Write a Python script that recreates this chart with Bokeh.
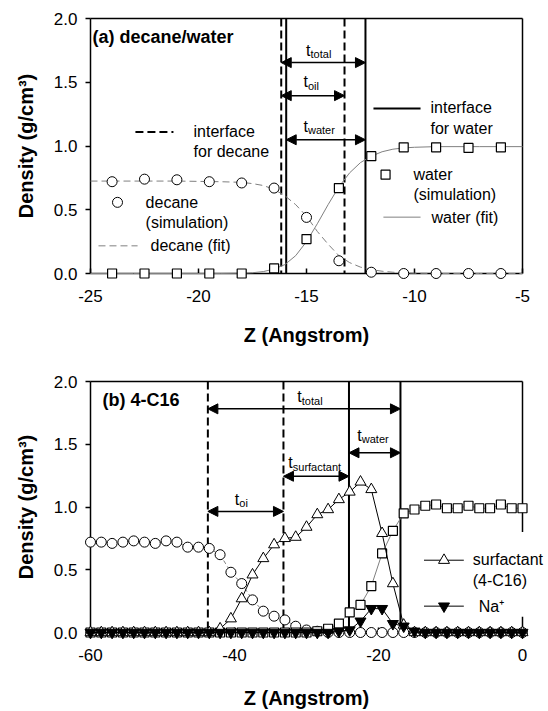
from bokeh.plotting import figure
from bokeh.layouts import column
from bokeh.models import (Range1d, FixedTicker, PrintfTickFormatter, Span, Arrow,
                          NormalHead, Label, LinearAxis)
from bokeh.core.properties import value
from bokeh.embed import file_html
from bokeh.resources import INLINE

FONT = "Liberation Sans"

# ---------------- data: panel (a) decane/water ----------------
za = [-24, -22.5, -21, -19.5, -18, -16.5, -15, -13.5, -12, -10.5, -9, -7.5, -6]
decane_a = [0.72, 0.74, 0.735, 0.72, 0.71, 0.67, 0.44, 0.10, 0.01, 0.0, 0.0, 0.0, 0.0]
water_a = [0.0, 0.0, 0.0, 0.0, 0.0, 0.04, 0.27, 0.67, 0.92, 0.99, 0.99, 0.985, 0.99]

fit_z = [-25, -23, -21, -19, -18, -17.5, -17, -16.5, -16, -15.5, -15, -14.5, -14,
         -13.5, -13, -12.5, -12, -11.5, -11, -10.5, -10, -9, -7, -5]
decane_fit = [0.725, 0.725, 0.725, 0.72, 0.715, 0.705, 0.69, 0.66, 0.61, 0.54, 0.45, 0.33,
              0.23, 0.14, 0.085, 0.05, 0.03, 0.018, 0.01, 0.005, 0.002, 0.0, 0.0, 0.0]
water_fit = [0.0, 0.0, 0.0, 0.0, 0.002, 0.006, 0.015, 0.035, 0.07, 0.14, 0.25, 0.39,
             0.54, 0.68, 0.79, 0.87, 0.92, 0.955, 0.975, 0.985, 0.99, 0.995, 0.995, 0.995]

interface_decane_a = [-16.17, -13.24]
interface_water_a = [-15.94, -12.27]
xticks_a = [-25, -20, -15, -10, -5]
yticks = [0.0, 0.5, 1.0, 1.5, 2.0]

# ---------------- data: panel (b) 4-C16 ----------------
zb = [-60, -58.5, -57, -55.5, -54, -52.5, -51, -49.5, -48, -46.5, -45, -43.5, -42,
      -40.5, -39, -37.5, -36, -34.5, -33, -31.5, -30, -28.5, -27, -25.5, -24, -22.5,
      -21, -19.5, -18, -16.5, -15, -13.5, -12, -10.5, -9, -7.5, -6, -4.5, -3, -1.5, 0]
decane_b = [0.72, 0.72, 0.71, 0.72, 0.73, 0.72, 0.71, 0.73, 0.72, 0.68, 0.68, 0.67, 0.62,
            0.48, 0.39, 0.26, 0.17, 0.13, 0.10, 0.05, 0.02, 0.01, 0.0, 0.0, 0.0, 0.0,
            0.0, 0.0, 0.0, 0.0, 0.0, 0.0, 0.0, 0.0, 0.0, 0.0, 0.0, 0.0, 0.0, 0.0, 0.0]
surfactant_b = [0.0, 0.0, 0.0, 0.0, 0.0, 0.0, 0.0, 0.0, 0.0, 0.0, 0.0, 0.0, 0.03,
                0.11, 0.27, 0.46, 0.59, 0.70, 0.75, 0.76, 0.84, 0.94, 0.98, 1.06, 1.12, 1.20,
                1.14, 0.79, 0.39, 0.06, 0.0, 0.0, 0.0, 0.0, 0.0, 0.0, 0.0, 0.0, 0.0, 0.0, 0.0]
water_b = [0.0, 0.0, 0.0, 0.0, 0.0, 0.0, 0.0, 0.0, 0.0, 0.0, 0.0, 0.0, 0.0,
           0.0, 0.0, 0.0, 0.0, 0.0, 0.0, 0.0, 0.0, 0.01, 0.03, 0.07, 0.16, 0.22,
           0.37, 0.63, 0.81, 0.95, 0.98, 1.01, 1.02, 0.99, 0.99, 1.01, 0.99, 0.99, 1.02, 0.99, 0.99]
na_b = [0.0, 0.0, 0.0, 0.0, 0.0, 0.0, 0.0, 0.0, 0.0, 0.0, 0.0, 0.0, 0.0,
        0.0, 0.0, 0.0, 0.0, 0.0, 0.0, 0.0, 0.0, 0.0, 0.0, 0.01, 0.02, 0.09,
        0.19, 0.19, 0.07, 0.05, 0.01, 0.0, 0.0, 0.0, 0.0, 0.0, 0.0, 0.0, 0.0, 0.0, 0.0]

interface_decane_b = [-43.7, -33.2]
interface_water_b = [-24.1, -16.95]
xticks_b = [-60, -40, -20, 0]


def make_fig(xr, xticks, width, height, left, right, top, bottom, xlabel_standoff):
    p = figure(width=width, height=height, x_range=Range1d(*xr), y_range=Range1d(0, 2),
               output_backend="svg", toolbar_location=None,
               min_border_left=left, min_border_right=right,
               min_border_top=top, min_border_bottom=bottom)
    p.xgrid.visible = False
    p.ygrid.visible = False
    p.outline_line_color = None
    p.background_fill_color = "white"
    p.border_fill_color = "white"
    for ax in (p.xaxis[0], p.yaxis[0]):
        ax.axis_line_width = 1.5
        ax.axis_line_color = "black"
        ax.major_tick_line_width = 1.5
        ax.major_tick_line_color = "black"
        ax.minor_tick_line_color = None
        ax.major_label_text_font = FONT
        ax.major_label_text_font_size = "17px"
        ax.major_label_text_color = "black"
        ax.axis_label_text_font = FONT
        ax.axis_label_text_font_style = "bold"
        ax.axis_label_text_font_size = "20px"
        ax.axis_label_text_color = "black"
    p.xaxis.ticker = FixedTicker(ticks=xticks)
    p.xaxis.formatter = PrintfTickFormatter(format="%d")
    p.xaxis.major_tick_in = 5
    p.xaxis.major_tick_out = 0
    p.xaxis.major_label_standoff = 16
    p.xaxis.axis_label = "Z (Angstrom)"
    p.xaxis.axis_label_standoff = xlabel_standoff
    p.yaxis.ticker = FixedTicker(ticks=yticks)
    p.yaxis.formatter = PrintfTickFormatter(format="%.1f")
    p.yaxis.major_tick_in = 0
    p.yaxis.major_tick_out = 5
    p.yaxis.major_label_standoff = 8
    p.yaxis.axis_label = "Density (g/cm³)"
    p.yaxis.axis_label_standoff = 14
    # plain frame edges on top and right
    for side in ("above", "right"):
        ax = LinearAxis(ticker=FixedTicker(ticks=[]), axis_line_width=1.5,
                        axis_line_color="black", major_tick_line_color=None,
                        minor_tick_line_color=None, major_label_text_font_size="0px")
        p.add_layout(ax, side)
    return p


def add_text(p, x, y, text, size="16px", bold=False, align="left", xo=0, yo=0):
    p.add_layout(Label(x=x, y=y, x_offset=xo, y_offset=yo, text=text, text_font=FONT,
                       text_font_size=size, text_font_style="bold" if bold else "normal",
                       text_color="black", text_align=align, text_baseline="middle",
                       text_line_height=1.2))


def add_t(p, x, y, sub):
    add_text(p, x, y, "t", size="16px")
    add_text(p, x, y, sub, size="11px", xo=4.5, yo=-4)


def add_arrow(p, x0, x1, y):
    p.add_layout(Arrow(start=NormalHead(size=10, fill_color="black", line_color="black"),
                       end=NormalHead(size=10, fill_color="black", line_color="black"),
                       x_start=x0, y_start=y, x_end=x1, y_end=y,
                       line_width=1.5, line_color="black"))


# ======================= panel (a) =======================
p1 = make_fig((-25, -5), xticks_a, 548, 348, 90, 26, 18, 72, 19)

for zloc in interface_decane_a:
    p1.add_layout(Span(location=zloc, dimension="height", line_color="black",
                       line_width=2, line_dash="8 4"))
for zloc in interface_water_a:
    p1.add_layout(Span(location=zloc, dimension="height", line_color="black", line_width=2))

r = p1.line(fit_z, decane_fit, line_color="#808080", line_width=1, line_dash="7 4")
r.level = "overlay"
r = p1.line(fit_z, water_fit, line_color="#808080", line_width=1)
r.level = "overlay"
r = p1.scatter(za, decane_a, marker="circle", size=10, fill_color="white",
               line_color="black", line_width=1)
r.level = "overlay"
r = p1.scatter(za, water_a, marker="square", size=9, fill_color="white",
               line_color="black", line_width=1.2)
r.level = "overlay"

add_text(p1, -24.91, 1.853, "(a) decane/water", size="18px", bold=True)

add_arrow(p1, interface_decane_a[0], interface_water_a[1], 1.654)
add_arrow(p1, interface_decane_a[0], interface_decane_a[1], 1.395)
add_arrow(p1, interface_water_a[0], interface_water_a[1], 1.049)
add_t(p1, -15.02, 1.752, "total")
add_t(p1, -15.14, 1.504, "oil")
add_t(p1, -15.14, 1.155, "water")

# legend (a)
p1.line([-22.92, -21.16], [1.109, 1.109], line_color="black", line_width=2, line_dash="8 4")
add_text(p1, -20.23, 1.035, "interface\nfor decane")
p1.line([-11.90, -9.72], [1.295, 1.295], line_color="black", line_width=2)
add_text(p1, -9.26, 1.221, "interface\nfor water")
p1.scatter([-23.75], [0.558], marker="circle", size=10, fill_color="white",
           line_color="black", line_width=1)
add_text(p1, -22.45, 0.477, "decane\n(simulation)")
p1.line([-24.63, -22.82], [0.217, 0.217], line_color="#808080", line_width=1, line_dash="7 4")
add_text(p1, -22.22, 0.217, "decane (fit)")
p1.scatter([-11.34], [0.775], marker="square", size=9, fill_color="white",
           line_color="black", line_width=1.2)
add_text(p1, -10.05, 0.698, "water\n(simulation)")
p1.line([-11.44, -9.72], [0.442, 0.442], line_color="#808080", line_width=1)
add_text(p1, -9.21, 0.442, "water (fit)")

# ======================= panel (b) =======================
p2 = make_fig((-60, 0), xticks_b, 548, 363, 88, 26, 33, 73, 23)

for zloc in interface_decane_b:
    p2.add_layout(Span(location=zloc, dimension="height", line_color="black",
                       line_width=2, line_dash="8 4"))
for zloc in interface_water_b:
    p2.add_layout(Span(location=zloc, dimension="height", line_color="black", line_width=2))

add_text(p2, -58.34, 1.852, "(b) 4-C16", size="18px", bold=True)

add_arrow(p2, interface_decane_b[0], interface_water_b[1], 1.782)
add_arrow(p2, interface_water_b[0], interface_water_b[1], 1.432)
add_arrow(p2, interface_decane_b[1], interface_water_b[0], 1.245)
add_arrow(p2, interface_decane_b[0], interface_decane_b[1], 0.965)
add_t(p2, -31.28, 1.878, "total")
add_t(p2, -22.95, 1.572, "water")
add_t(p2, -32.53, 1.352, "surfactant")
add_t(p2, -39.95, 1.061, "oi")

r = p2.line(zb, decane_b, line_color="#808080", line_width=1, line_dash="4 3")
r.level = "overlay"
r = p2.scatter(zb, decane_b, marker="circle", size=10, fill_color="white",
               line_color="black", line_width=1)
r.level = "overlay"
r = p2.line(zb, water_b, line_color="#808080", line_width=1)
r.level = "overlay"
r = p2.scatter(zb, water_b, marker="square", size=9, fill_color="white",
               line_color="black", line_width=1.2)
r.level = "overlay"
r = p2.line(zb, surfactant_b, line_color="black", line_width=1)
r.level = "overlay"
r = p2.scatter(zb, surfactant_b, marker="triangle", size=11, fill_color="white",
               line_color="black", line_width=1)
r.level = "overlay"
r = p2.line(zb, na_b, line_color="black", line_width=1)
r.level = "overlay"
r = p2.scatter(zb, na_b, marker="inverted_triangle", size=11, fill_color="black",
               line_color="black", line_width=1)
r.level = "overlay"

# legend (b): white background that hides part of the right frame edge
r = p2.quad(left=[-14.5], right=[1.5], bottom=[0.125], top=[0.80],
            fill_color="white", fill_alpha=1.0, line_alpha=0.0)
r.level = "overlay"
r = p2.line([-13.68, -8.15], [0.576, 0.576], line_color="black", line_width=1)
r.level = "overlay"
r = p2.scatter([-10.9], [0.576], marker="triangle", size=11, fill_color="white",
               line_color="black", line_width=1)
r.level = "overlay"
r = p2.text(x=[-6.91], y=[0.498], text=["surfactant\n(4-C16)"], text_font=value(FONT),
            text_font_size=value("16px"), text_color="black", text_align="left",
            text_baseline="middle", text_line_height=1.2)
r.level = "overlay"
r = p2.line([-13.68, -8.15], [0.21, 0.21], line_color="black", line_width=1)
r.level = "overlay"
r = p2.scatter([-10.9], [0.21], marker="inverted_triangle", size=11, fill_color="black",
               line_color="black", line_width=1)
r.level = "overlay"
r = p2.text(x=[-6.08], y=[0.21], text=["Na⁺"], text_font=value(FONT),
            text_font_size=value("16px"), text_color="black", text_align="left",
            text_baseline="middle")
r.level = "overlay"

layout = column(p1, p2)
open("out.html", "w").write(file_html(layout, INLINE))
